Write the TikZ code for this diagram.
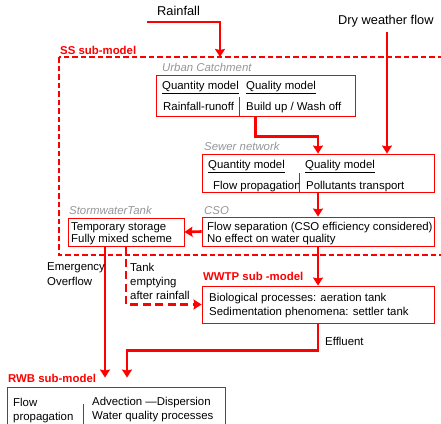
\documentclass[tikz,border=0pt]{standalone}
\usepackage{fontspec}
\setmainfont{Liberation Sans}
\usetikzlibrary{arrows.meta,calc}
\definecolor{grisclair}{RGB}{150,150,150}
\definecolor{rouge}{RGB}{255,0,0}
\tikzset{
    flux/.style={draw=rouge, line width=2.6pt, -{Stealth[length=8pt,width=10pt,inset=1pt]}},
    vidange/.style={flux, dash pattern=on 8pt off 4.5pt},
    bloc/.style={draw=rouge, line width=0.9pt, inner sep=0pt},
    cadre/.style={draw=rouge, color=rouge, line width=1.2pt, dash pattern=on 5.5pt off 3pt, inner sep=0pt},
    separ/.style={draw=rouge, line width=0.8pt},
    txt/.style={anchor=west, inner sep=0pt, text height=8pt, text depth=0pt, font=\fontsize{11.4}{13}\selectfont},
    entree/.style={txt, font=\fontsize{12.8}{15}\selectfont},
    sousmodele/.style={txt, text=rouge, font=\fontsize{11.4}{13}\selectfont\bfseries},
    composant/.style={txt, text=grisclair, font=\fontsize{11.4}{13}\selectfont\itshape},
}
\begin{document}
\begin{tikzpicture}[x=1pt,y=-1pt]
			\useasboundingbox (0,0) rectangle (441,423);
			%ENTREES
			\node[entree] (pluie) at (157,11.5) {Rainfall};
			\node[entree] (tempssec) at (338,20.5) {Dry weather flow};
			\coordinate (pluiedep) at (147,22);
			\coordinate (ssentree) at (220,57);
			\coordinate (tempssecdep) at (387,32);
			%SS SUB-MODEL
			\draw[cadre] (59,57) rectangle (461,255);
			\node[sousmodele] (sslabel) at (60,50.5) {SS sub-model};
			%Urban catchment
			\node[composant] (urbainlabel) at (162,67.5) {Urban Catchment};
			\node[bloc, minimum width=199pt, minimum height=41pt] (urbain) at (255.5,95.5) {};
			\node[txt] (urbainqt) at (162,85) {\underline{Quantity model}};
			\node[txt] (urbainql) at (246,85) {\underline{Quality model}};
			\node[txt] (urbainrr) at (163,106.5) {Rainfall-runoff};
			\node[txt] (urbainbw) at (246,106.5) {Build up / Wash off};
			\draw[separ] (239,97) -- (239,0 |- urbain.south);
			%Sewer network
			\node[composant] (reseaulabel) at (204,146.5) {Sewer network};
			\node[bloc, minimum width=232pt, minimum height=38pt] (reseau) at (318,173) {};
			\node[txt] (reseauqt) at (208,164) {\underline{Quantity model}};
			\node[txt] (reseauql) at (305,164) {\underline{Quality model}};
			\node[txt] (reseaufp) at (213,185.5) {Flow propagation};
			\node[txt] (reseaupt) at (306,185.5) {Pollutants transport};
			\draw[separ] (299,173) -- (299,0 |- reseau.south);
			%CSO
			\node[composant] (csolabel) at (204,210) {CSO};
			\node[bloc, minimum width=232pt, minimum height=29pt] (cso) at (318,231.5) {};
			\node[txt] (csoa) at (207,226) {Flow separation (CSO efficiency considered)};
			\node[txt] (csob) at (207,238) {No effect on water quality};
			%Stormwater tank
			\node[composant] (bassinlabel) at (69,210) {StormwaterTank};
			\node[bloc, minimum width=116pt, minimum height=28pt] (bassin) at (126,232) {};
			\node[txt] (bassina) at (71,226) {Temporary storage};
			\node[txt] (bassinb) at (71,238) {Fully mixed scheme};
			%WWTP SUB-MODEL
			\node[sousmodele] (wwtplabel) at (203,276.5) {WWTP sub -model};
			\node[bloc, minimum width=232pt, minimum height=37pt] (wwtp) at (318,304.5) {};
			\node[txt] (wwtpa) at (209,297) {Biological processes: aeration tank};
			\node[txt] (wwtpb) at (209,311) {Sedimentation phenomena: settler tank};
			%RWB SUB-MODEL
			\node[sousmodele] (rwblabel) at (8,378.5) {RWB sub-model};
			\node[bloc, minimum width=218pt, minimum height=50pt] (rwb) at (116,412) {};
			\node[txt] (rwbfa) at (13,402) {Flow};
			\node[txt] (rwbfb) at (13,416) {propagation};
			\node[txt] (rwbqa) at (92,401) {Advection —Dispersion};
			\node[txt] (rwbqb) at (92,415) {Water quality processes};
			\draw[separ] (83,404) -- (83,440);
			%FLUX
			\draw[flux] (pluiedep) -| (ssentree);
			\draw[flux] (tempssecdep) -- (tempssecdep |- reseau.north);
			\draw[flux] (urbain.south) -- ++(0,20) -| (reseau.north);
			\draw[flux] (reseau.south) -- (cso.north);
			\draw[flux] (cso.west) -- (bassin.east);
			\draw[flux] (cso.south) -- (wwtp.north);
			\draw[flux] ([xshift=-21pt]bassin.south) -- ([xshift=-11pt,yshift=9pt]rwb.north);
			\draw[vidange] (bassin.south) |- (wwtp.west);
			\draw[flux] (wwtp.south) -- ++(0,27) -| ([xshift=11pt,yshift=9pt]rwb.north);
			%Textes des flux
			\node[txt] (urgencea) at (47,266.5) {Emergency};
			\node[txt] (urgenceb) at (47,281) {Overflow};
			\node[txt] (vidangea) at (130,267) {Tank};
			\node[txt] (vidangeb) at (130,281) {emptying};
			\node[txt] (vidangec) at (130,295) {after rainfall};
			\node[txt] (effluent) at (325,341) {Effluent};
\end{tikzpicture}
\end{document}
